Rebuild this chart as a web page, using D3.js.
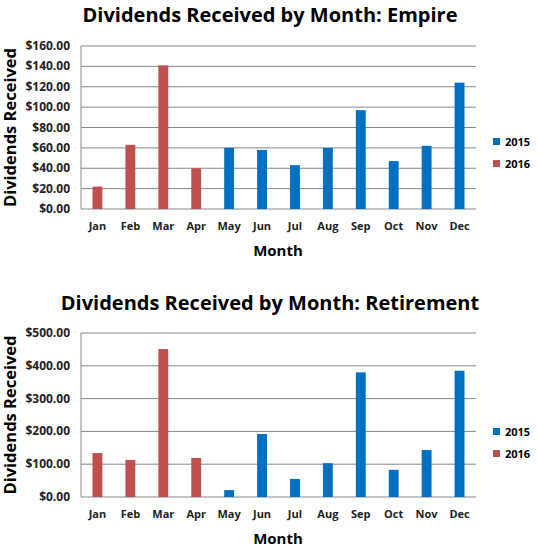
<!DOCTYPE html><html><head><meta charset="utf-8"><script src="https://cdn.jsdelivr.net/npm/d3@7"></script>
<style>body{margin:0;background:#fff}text{font-family:"Open Sans",sans-serif;font-weight:bold}</style></head><body>
<svg id="c" width="538" height="549"></svg>
<script>
const months=["Jan","Feb","Mar","Apr","May","Jun","Jul","Aug","Sep","Oct","Nov","Dec"];
const yearOf=["2016","2016","2016","2016","2015","2015","2015","2015","2015","2015","2015","2015"];
const empire=[22,63,141,40,60,58,43,60,97,47,62,124];
const retirement=[134,113,451,119,21,192,55,103,380,83,143,385];
const empireTicks=[0,20,40,60,80,100,120,140,160];
const retireTicks=[0,100,200,300,400,500];
const colors={"2015":"#0070C0","2016":"#C0504D"};
const svg=d3.select("#c");
function chart(title,vals,ticks,top,bottom,titleY,legY,monthY){
  const x=d3.scaleBand().domain(months).range([81,476]).paddingInner(0.7).paddingOuter(0.35);
  const y=d3.scaleLinear().domain([0,d3.max(ticks)]).range([bottom,top]);
  const g=svg.append("g");
  g.append("text").attr("x",270).attr("y",titleY).attr("text-anchor","middle").attr("font-size",20).text(title);
  g.selectAll(".gl").data(ticks).join("line").attr("x1",81).attr("x2",476).attr("y1",d=>y(d)).attr("y2",d=>y(d)).attr("stroke","#888").attr("stroke-width",1);
  g.append("line").attr("x1",81).attr("x2",81).attr("y1",top).attr("y2",bottom).attr("stroke","#888");
  g.selectAll(".tl").data(ticks).join("text").attr("x",70).attr("y",d=>y(d)+4).attr("text-anchor","end").attr("font-size",12).attr("fill","#222").text(d=>"$"+d.toFixed(2));
  g.selectAll(".b").data(vals).join("rect").attr("x",(d,i)=>x(months[i])).attr("width",x.bandwidth()).attr("y",d=>y(d)).attr("height",d=>bottom-y(d)).attr("fill",(d,i)=>colors[yearOf[i]]);
  g.selectAll(".ml").data(months).join("text").attr("x",d=>x(d)+x.bandwidth()/2).attr("y",bottom+21).attr("text-anchor","middle").attr("font-size",11).attr("fill","#222").text(d=>d);
  g.append("text").attr("x",278).attr("y",monthY).attr("text-anchor","middle").attr("font-size",15).text("Month");
  g.append("text").attr("transform",`translate(16,${(top+bottom)/2}) rotate(-90)`).attr("text-anchor","middle").attr("font-size",16.5).text("Dividends Received");
  ["2015","2016"].forEach((k,i)=>{
    g.append("rect").attr("x",493).attr("y",legY+i*22-4).attr("width",7).attr("height",7).attr("fill",colors[k]);
    g.append("text").attr("x",505).attr("y",legY+i*22+4).attr("font-size",11).attr("font-weight","normal").text(k);
  });
}
chart("Dividends Received by Month: Empire",empire,empireTicks,46,209,22,142,256);
chart("Dividends Received by Month: Retirement",retirement,retireTicks,333,497,310,432,544);
</script></body></html>
